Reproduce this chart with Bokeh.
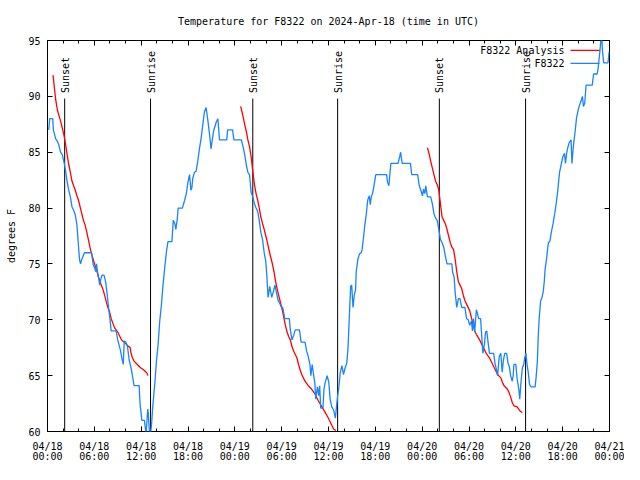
from bokeh.plotting import figure
from bokeh.models import Range1d, FixedTicker, LinearAxis, Title, Label
from bokeh.embed import file_html
from bokeh.resources import INLINE
from bokeh.core.properties import value
import math

FONT = "DejaVu Sans Mono"
FS = "10px"

title_text = "Temperature for F8322 on 2024-Apr-18 (time in UTC)"
y_label = "degrees F"
obs_name = "F8322"
ana_name = "F8322 Analysis"

# x axis: hours since 2024-04-18 00:00 UTC
tick_hours = [0, 6, 12, 18, 24, 30, 36, 42, 48, 54, 60, 66, 72]
tick_labels = ["04/18\n00:00", "04/18\n06:00", "04/18\n12:00", "04/18\n18:00",
               "04/19\n00:00", "04/19\n06:00", "04/19\n12:00", "04/19\n18:00",
               "04/20\n00:00", "04/20\n06:00", "04/20\n12:00", "04/20\n18:00",
               "04/21\n00:00"]
minor_hours = list(range(0, 73, 2))
y_ticks = [60, 65, 70, 75, 80, 85, 90, 95]

sunset_hours = [2.2, 26.3, 50.2]
sunrise_hours = [13.2, 37.17, 61.25]

obs_hours = [0.16, 0.28, 0.67, 0.75, 1.05, 1.26, 1.46, 1.67, 1.88, 2.09, 2.30, 2.51, 2.72, 2.93,
             3.14, 3.35, 3.56, 3.77, 3.97, 4.10, 4.23, 4.39, 4.73, 5.65, 5.86, 6.07, 6.15, 6.28,
             6.40, 6.57, 6.69, 6.82, 6.99, 7.24, 7.45, 7.66, 7.82, 8.03, 8.16, 8.79, 9.00, 9.33,
             9.58, 9.71, 9.83, 10.04, 10.25, 10.46, 10.67, 10.88, 11.09, 11.75, 11.80, 11.88,
             12.00, 12.08, 12.42, 12.50, 12.63, 12.75, 12.84, 12.92, 13.05, 13.20, 13.34, 13.46,
             13.63, 13.76, 13.97, 14.17, 14.38, 14.59, 14.80, 15.01, 15.22, 15.43, 15.94, 16.11,
             16.32, 16.44, 16.61, 16.74, 17.28, 17.57, 17.78, 17.99, 18.20, 18.37, 18.49, 18.62,
             18.83, 19.04, 19.25, 19.46, 19.67, 19.94, 20.10, 20.32, 20.57, 20.78, 20.95, 21.07,
             21.28, 21.62, 21.83, 22.04, 22.96, 23.08, 23.71, 23.88, 24.84, 25.05, 25.26, 25.46,
             25.67, 25.88, 26.09, 26.30, 26.51, 26.72, 26.93, 27.13, 27.34, 27.55, 27.76, 27.97,
             28.09, 28.26, 28.47, 28.72, 28.93, 29.14, 29.31, 29.56, 29.73, 29.98, 30.14, 30.40,
             30.98, 31.11, 31.32, 31.53, 31.74, 32.28, 32.49, 32.99, 33.20, 33.41, 33.62, 33.74,
             33.91, 34.08, 34.24, 34.37, 34.58, 34.75, 34.87, 35.00, 35.29, 35.42, 35.58, 35.83,
             36.04, 36.21, 36.42, 36.67, 36.88, 37.05, 37.17, 37.30, 37.51, 37.72, 37.92, 38.13,
             38.34, 38.51, 38.68, 38.84, 38.97, 39.14, 39.30, 39.47, 39.55, 39.76, 39.97, 40.18,
             40.31, 40.47, 40.64, 40.85, 41.02, 41.23, 41.35, 41.48, 41.64, 41.85, 42.06, 43.44,
             43.57, 43.74, 43.86, 43.99, 44.91, 45.12, 45.24, 45.33, 45.45, 46.50, 46.66, 47.42,
             47.63, 47.83, 48.04, 48.17, 48.34, 48.46, 48.67, 49.09, 49.30, 49.51, 49.72, 49.93,
             50.13, 50.34, 50.55, 50.76, 50.97, 51.18, 51.81, 51.89, 52.10, 52.22, 52.43, 52.64,
             52.85, 53.06, 53.48, 53.69, 53.90, 54.10, 54.31, 54.44, 54.57, 54.73, 54.94, 55.07,
             55.24, 55.49, 55.66, 55.78, 55.99, 56.12, 56.28, 56.41, 56.62, 57.16, 57.33, 57.53,
             57.66, 57.87, 58.08, 58.25, 58.41, 58.58, 58.83, 59.00, 59.17, 59.33, 59.54, 59.66,
             59.75, 60.00, 60.17, 60.38, 60.50, 60.67, 60.84, 61.01, 61.17, 61.30, 61.42, 61.59,
             61.76, 61.97, 62.47, 62.59, 62.76, 62.88, 63.01, 63.18, 63.35, 63.51, 63.64, 63.76,
             63.93, 64.06, 64.18, 64.35, 64.56, 64.77, 64.98, 65.19, 65.39, 65.60, 65.81, 66.02,
             66.23, 66.36, 66.53, 66.69, 66.86, 67.07, 67.19, 67.36, 67.57, 67.78, 67.99, 68.20,
             68.41, 68.53, 68.66, 68.83, 69.00, 69.79, 69.96, 70.42, 70.54, 70.63, 70.79, 70.92,
             71.00, 71.09, 71.25, 71.80, 71.96]
obs_temps = [87.0, 88.0, 88.0, 87.0, 86.2, 86.0, 85.6, 85.0, 84.8, 84.2, 83.4, 82.4, 81.6, 81.0,
             80.1, 79.8, 79.4, 78.5, 76.6, 75.4, 75.0, 75.4, 76.0, 76.0, 74.9, 74.6, 74.3, 75.0,
             74.3, 73.7, 73.1, 73.6, 74.0, 74.0, 73.4, 72.2, 71.1, 69.9, 69.0, 69.0, 68.2, 67.3,
             66.4, 66.0, 68.1, 68.0, 67.6, 66.4, 65.8, 65.0, 64.1, 64.1, 63.2, 62.3,
             61.6, 61.0, 61.0, 60.5, 59.8, 61.0, 62.0, 61.6, 60.0, 59.8, 60.7, 62.0,
             63.4, 64.4, 66.4, 67.8, 69.9, 71.3, 73.1, 74.6, 76.0, 77.0, 77.0, 78.9,
             78.6, 78.1, 78.9, 80.0, 80.0, 80.7, 81.3, 82.3, 83.0, 81.6, 81.8, 82.7,
             83.2, 83.3, 84.2, 85.3, 86.2, 87.7, 88.6, 89.0, 87.7, 86.5, 85.3, 85.9,
             86.9, 87.7, 88.0, 86.1, 86.1, 87.0, 87.0, 86.1, 86.1, 85.5, 84.8, 83.9,
             83.2, 83.0, 81.4, 81.0, 80.4, 80.0, 79.7, 78.9, 77.8, 77.2, 76.0, 75.2,
             74.0, 72.0, 73.0, 72.0, 72.5, 73.1, 72.5, 71.7, 71.5, 71.1, 71.1, 70.1,
             70.1, 69.1, 68.2, 68.6, 69.1, 69.1, 68.0, 68.0, 67.2, 66.7, 66.0, 65.0,
             66.0, 65.1, 64.4, 62.9, 64.0, 63.2, 64.1, 62.1, 62.1, 63.8, 64.4, 65.0,
             64.4, 62.9, 62.2, 61.9, 61.2, 62.4, 63.2, 63.8, 65.3, 65.9, 65.1, 65.7,
             66.1, 67.6, 70.5, 73.0, 73.1, 71.1, 72.2, 72.7, 74.3, 75.4, 75.9, 76.0,
             76.3, 77.3, 78.4, 79.5, 80.7, 81.1, 80.3, 81.0, 81.3, 82.1, 83.0, 83.0,
             82.3, 82.0, 83.0, 84.0, 84.0, 84.6, 85.0, 84.5, 84.0, 84.0, 83.0, 83.0,
             82.0, 81.6, 81.1, 81.7, 81.3, 82.0, 81.0, 81.0, 80.4, 79.5, 79.1, 78.9,
             78.1, 77.2, 76.9, 76.5, 75.7, 75.0, 75.0, 74.3, 73.8, 72.5, 71.1, 71.9,
             71.9, 71.1, 71.1, 70.1, 70.0, 69.5, 69.9, 69.0, 70.1, 68.9, 70.9, 70.6,
             70.1, 70.1, 68.2, 67.0, 67.9, 68.9, 69.0, 68.2, 67.0, 67.0, 66.1, 65.5,
             65.0, 66.7, 67.0, 65.3, 66.4, 67.0, 67.0, 66.1, 65.8, 65.0, 64.5, 65.0,
             66.0, 66.0, 64.7, 63.8, 62.9, 64.5, 65.7, 66.0, 66.7, 67.0, 66.1, 65.3,
             64.2, 64.0, 64.0, 64.8, 66.3, 68.7, 70.3, 71.7, 72.0, 72.5, 73.4, 74.6,
             75.4, 76.3, 76.9, 77.0, 77.9, 78.6, 79.5, 80.5, 81.7, 83.2, 83.9, 84.6,
             84.9, 84.0, 85.0, 85.5, 85.9, 86.1, 84.0, 85.5, 86.7, 88.1, 88.8, 89.3,
             89.7, 90.0, 89.1, 89.4, 91.0, 91.0, 92.0, 92.0, 92.5, 93.1, 94.2, 95.2,
             95.5, 94.2, 93.0, 93.0, 94.0]

ana1_hours = [0.71, 1.05, 1.26, 1.46, 1.67, 1.88, 2.09, 2.30, 2.51, 2.72, 2.93, 3.14, 3.35, 3.56,
              3.77, 3.97, 4.18, 4.39, 4.60, 4.81, 5.02, 5.23, 5.44, 5.65, 5.86, 6.07, 6.28, 6.49,
              6.69, 6.90, 7.11, 7.32, 7.53, 7.74, 7.95, 8.16, 8.37, 8.58, 8.79, 9.00, 9.21, 9.41,
              9.62, 9.83, 10.25, 10.60, 10.70, 10.88, 11.09, 11.51, 11.92, 12.34, 12.76, 12.86]
ana1_temps = [91.9, 89.7, 88.8, 88.3, 87.8, 87.2, 86.6, 85.8, 84.8, 83.9, 83.2, 82.4, 82.0, 81.6,
              81.1, 80.7, 80.1, 79.5, 78.9, 78.5, 77.9, 77.2, 76.5, 75.9, 75.4, 74.9, 74.5, 73.9,
              73.5, 73.1, 72.7, 72.2, 71.6, 71.1, 70.7, 70.1, 69.7, 69.3, 69.1, 68.9, 68.6, 68.3,
              68.1, 68.0, 67.7, 67.5, 67.0, 66.6, 66.3, 66.0, 65.7, 65.5, 65.2, 65.0]

ana2_hours = [24.75, 25.05, 25.26, 25.46, 25.67, 25.88, 26.09, 26.30, 26.51, 26.72, 26.93, 27.13,
              27.34, 27.55, 27.76, 27.97, 28.18, 28.39, 28.60, 28.81, 29.02, 29.23, 29.44, 29.65,
              29.86, 30.07, 30.28, 30.48, 30.69, 30.90, 31.11, 31.32, 31.53, 31.74, 31.95, 32.16,
              32.37, 32.57, 32.78, 32.99, 33.41, 33.83, 34.24, 34.66, 35.08, 35.50, 35.91, 36.33,
              36.67, 36.96]
ana2_temps = [89.1, 88.2, 87.5, 86.9, 86.1, 85.5, 84.6, 83.3, 82.1, 81.3, 80.7, 80.0,
              79.2, 78.6, 78.1, 77.5, 76.9, 76.2, 75.6, 75.0, 74.3, 73.4, 72.7, 72.1,
              71.5, 70.9, 70.2, 69.5, 68.9, 68.5, 68.2, 67.6, 67.2, 66.9, 66.6, 66.0,
              65.5, 65.1, 64.8, 64.5, 64.1, 63.8, 63.4, 62.8, 62.3, 61.8, 61.3, 60.7,
              60.2, 60.1]

ana3_hours = [48.67, 48.88, 49.09, 49.30, 49.51, 49.72, 49.93, 50.13, 50.34, 50.55, 50.76, 50.97,
              51.18, 51.39, 51.60, 51.81, 52.02, 52.23, 52.43, 52.64, 52.85, 53.06, 53.27, 53.48,
              53.69, 54.10, 54.31, 54.52, 54.73, 54.94, 55.36, 55.78, 56.20, 56.62, 57.04, 57.24,
              57.66, 58.08, 58.28, 58.49, 58.91, 59.12, 59.33, 59.54, 59.75, 60.17, 60.37, 60.58,
              60.84]
ana3_temps = [85.4, 84.9, 84.2, 83.6, 83.0, 82.4, 82.1, 81.6, 80.4, 79.2, 78.9, 78.6,
              78.1, 77.5, 76.9, 76.5, 76.3, 75.4, 74.3, 73.4, 73.1, 72.8, 72.2, 71.7,
              71.4, 70.8, 70.2, 69.6, 69.0, 68.7, 68.2, 67.6, 67.0, 66.6, 66.0, 65.7,
              65.1, 64.8, 64.4, 64.1, 63.8, 63.5, 63.1, 62.6, 62.3, 62.2, 62.0, 61.8,
              61.7]

RED = "#ff0000"
BLUE = "#1884ff"

X0, X1 = 0, 72
Y0, Y1 = 60, 95
FRAME_W = 562
FRAME_H = 393

p = figure(width=624, height=464, output_backend="svg", toolbar_location=None,
           x_range=Range1d(X0, X1), y_range=Range1d(Y0, Y1), title=None,
           min_border_left=47, min_border_right=15, min_border_top=40, min_border_bottom=30)
p.background_fill_color = "white"
p.border_fill_color = "white"
p.outline_line_color = "black"
p.outline_line_width = 1
p.xgrid.visible = False
p.ygrid.visible = False

xt = FixedTicker(ticks=tick_hours, minor_ticks=minor_hours)
yt = FixedTicker(ticks=y_ticks, minor_ticks=[])


def style_axis(ax):
    ax.axis_line_color = None
    ax.major_tick_in = 5
    ax.major_tick_out = 0
    ax.minor_tick_in = 3
    ax.minor_tick_out = 0
    ax.major_tick_line_color = "black"
    ax.minor_tick_line_color = "black"
    ax.major_label_text_font = FONT
    ax.major_label_text_font_size = FS
    ax.major_label_text_color = "black"
    ax.axis_label_text_font = FONT
    ax.axis_label_text_font_size = FS
    ax.axis_label_text_font_style = "normal"
    ax.axis_label_text_color = "black"


xa = p.xaxis[0]
xa.ticker = xt
style_axis(xa)
xa.major_label_overrides = {h: lab for h, lab in zip(tick_hours, tick_labels)}
xa.major_label_standoff = 9
xa.major_label_text_line_height = 0.95

ya = p.yaxis[0]
ya.ticker = yt
style_axis(ya)
ya.minor_tick_in = 0
ya.major_label_standoff = 7
ya.axis_label = y_label
ya.axis_label_standoff = 8

# mirrored top axis first (next to the frame), then the title outside it
top = LinearAxis(ticker=xt, major_label_overrides={h: "" for h in tick_hours})
style_axis(top)
top.major_label_standoff = 0
top.major_label_text_font_size = "0px"
p.add_layout(top, "above")

p.add_layout(Title(text=title_text, align="center", vertical_align="top", text_font=FONT,
                   text_font_size=FS, text_font_style="normal", text_color="black",
                   standoff=24), "above")

right = LinearAxis(ticker=yt, major_label_overrides={v: "" for v in y_ticks})
style_axis(right)
right.minor_tick_in = 0
right.major_label_standoff = 0
right.major_label_text_font_size = "0px"
p.add_layout(right, "right")

# sunset / sunrise markers
line_top = 89.8
label_base = 90.3
events = sunset_hours + sunrise_hours
event_names = ["Sunset"] * len(sunset_hours) + ["Sunrise"] * len(sunrise_hours)
p.segment(x0=events, y0=[Y0] * len(events), x1=events, y1=[line_top] * len(events),
          line_color="black", line_width=1)
p.text(x=events, y=[label_base] * len(events), text=event_names, angle=math.pi / 2,
       text_align="left", text_baseline="alphabetic", x_offset=0.5,
       text_font=value(FONT), text_font_size=value(FS), text_color="black")

# series
LW = 1.3
p.line(ana1_hours, ana1_temps, line_color=RED, line_width=LW)
p.line(ana2_hours, ana2_temps, line_color=RED, line_width=LW)
p.line(ana3_hours, ana3_temps, line_color=RED, line_width=LW)
p.line(obs_hours, obs_temps, line_color=BLUE, line_width=LW)

# gnuplot-style key: label right-aligned, sample line to its right
hpx = (X1 - X0) / FRAME_W
vpx = (Y1 - Y0) / FRAME_H
sample_x1 = X1 - 10 * hpx
sample_x0 = X1 - 39 * hpx
text_x = X1 - 45 * hpx
rows = [(ana_name, RED, Y1 - 10 * vpx), (obs_name, BLUE, Y1 - 23 * vpx)]
for name, col, yy in rows:
    p.line([sample_x0, sample_x1], [yy, yy], line_color=col, line_width=LW)
    p.add_layout(Label(x=text_x, y=yy, text=name, text_align="right", text_baseline="middle",
                       text_font=FONT, text_font_size=FS, text_color="black"))

open("out.html", "w").write(file_html(p, INLINE))
